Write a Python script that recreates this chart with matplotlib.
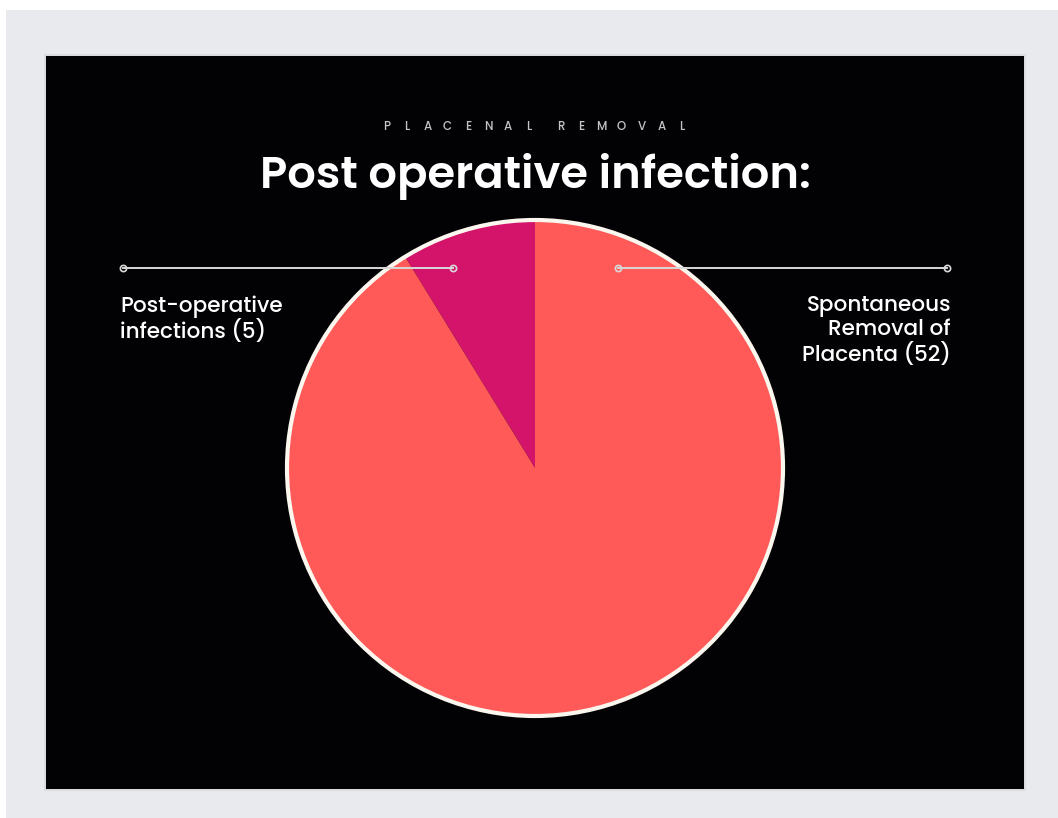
import matplotlib
matplotlib.use("Agg")
import matplotlib.pyplot as plt
from matplotlib.patches import Rectangle

labels = ["Post-operative\ninfections (5)", "Spontaneous\nRemoval of\nPlacenta (52)"]
values = [5, 52]
colors = ["#d4136a", "#ff5a58"]
title = "Post operative infection:"
subtitle = ["PLACENAL", "REMOVAL"]

W, H = 1058, 818
fig = plt.figure(figsize=(W / 100, H / 100), dpi=100)
fig.patch.set_facecolor("#e8eaed")
ax = fig.add_axes([0, 0, 1, 1])

def Y(y):
    return H - y

cx, cy, r = 535, Y(468), 248
ax.pie(values, colors=colors, startangle=90, counterclock=True, center=(cx, cy), radius=r,
       wedgeprops=dict(linewidth=0, edgecolor="none", zorder=3), frame=True)
ax.set_xlim(0, W)
ax.set_ylim(0, H)
ax.set_aspect("equal")
ax.axis("off")

# top white strip
ax.add_patch(Rectangle((0, Y(10)), W, 10, facecolor="white", edgecolor="none", zorder=0))
ax.add_patch(Rectangle((0, 0), 6, H, facecolor="white", edgecolor="none", zorder=0))
# black panel with subtle shadow
ax.add_patch(Rectangle((44, Y(791)), 982, 737, facecolor="#dcdce0", edgecolor="none", zorder=1))
ax.add_patch(Rectangle((46, Y(789)), 978, 733, facecolor="#020205", edgecolor="none", zorder=2))

circ = plt.Circle((cx, cy), r, facecolor="none", edgecolor="#fbf6ee", linewidth=3, zorder=5)
ax.add_patch(circ)

# leader lines
ly = Y(268)
for x0, x1 in [(123, 453), (618, 947)]:
    ax.plot([x0, x1], [ly, ly], color="#d8d8d8", lw=1.4, zorder=6)
    ax.plot([x0, x1], [ly, ly], "o", ms=4.5, mfc="none", mec="#d8d8d8", mew=1.2, zorder=7)

lf = ["Poppins", "Lato", "DejaVu Sans"]
ax.text(120, Y(295), labels[0], ha="left", va="top", color="white", fontsize=15.5,
        family=lf, fontweight="medium", linespacing=1.12, zorder=8)
ax.text(951, Y(295), labels[1], ha="right", va="top", color="white", fontsize=15.5,
        family=lf, fontweight="medium", linespacing=1.12, zorder=8, multialignment="right")

ax.text(535, Y(176), title, ha="center", va="center", color="white", fontsize=32.3,
        family=lf, fontweight="semibold", zorder=8)

for x0, word in zip([387, 561], subtitle):
    for i, ch in enumerate(word):
        ax.text(x0 + i * 20.2, Y(127), ch, ha="center", va="center", color="#c4c4c4",
                fontsize=8.5, family=lf, fontweight="medium", zorder=8)

fig.savefig("out.png", dpi=100, facecolor=fig.get_facecolor())
